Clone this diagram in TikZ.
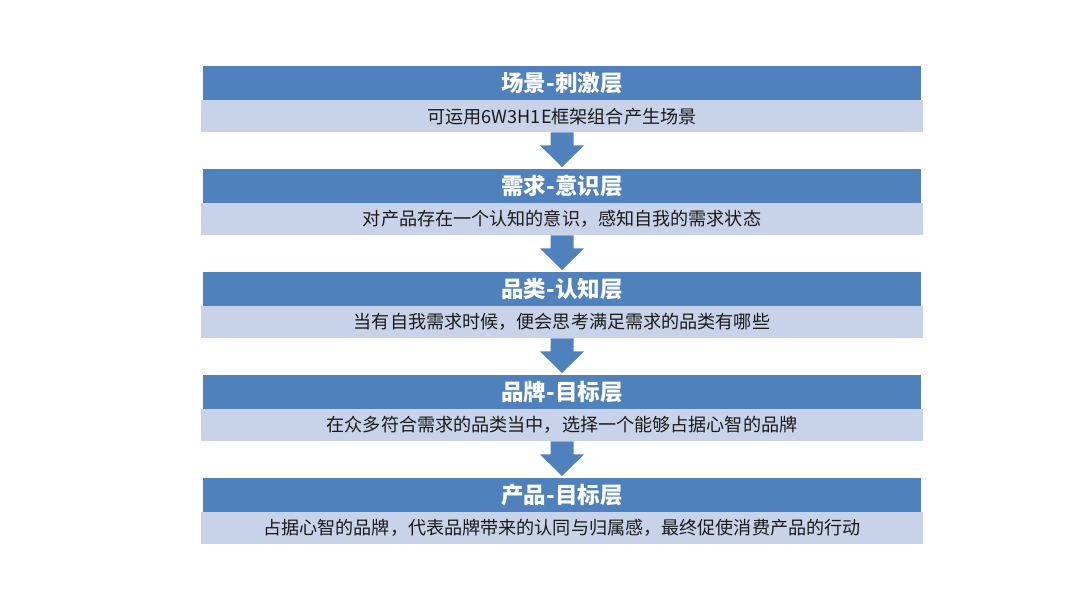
\documentclass[tikz,border=0pt]{standalone}
\usepackage{fontspec}
\setmainfont{Noto Sans CJK SC}
\usetikzlibrary{calc}
\definecolor{hdrblue}{HTML}{4F81BD}
\definecolor{lightblue}{HTML}{C8D2E8}
\definecolor{desctext}{HTML}{1A1A1A}
\begin{document}
\begin{tikzpicture}[x=1pt,y=-1pt,
  hdr/.style={fill=hdrblue, minimum width=718pt, minimum height=34pt, inner sep=0pt,
    text=white, font=\fontsize{22.5}{22.5}\selectfont\bfseries, anchor=north},
  desc/.style={fill=lightblue, minimum width=722pt, minimum height=32pt, inner sep=0pt,
    text=desctext, font=\fontsize{18.1}{18.1}\selectfont, anchor=north}]
\useasboundingbox (0,0) rectangle (1080,608);
\node[desc] (d1) at (562,100) {可运用6W3H1E框架组合产生场景};
\node[hdr]  (h1) at (562,66)  {场景-刺激层};
\node[desc] (d2) at (562,203) {对产品存在一个认知的意识，感知自我的需求状态};
\node[hdr]  (h2) at (562,169) {需求-意识层};
\node[desc] (d3) at (562,306) {当有自我需求时候，便会思考满足需求的品类有哪些};
\node[hdr]  (h3) at (562,272) {品类-认知层};
\node[desc] (d4) at (562,409) {在众多符合需求的品类当中，选择一个能够占据心智的品牌};
\node[hdr]  (h4) at (562,375) {品牌-目标层};
\node[desc] (d5) at (562,512) {占据心智的品牌，代表品牌带来的认同与归属感，最终促使消费产品的行动};
\node[hdr]  (h5) at (562,478) {产品-目标层};
\foreach \i/\j in {1/2,2/3,3/4,4/5}{
  \path (d\i.south) coordinate (a) (h\j.north) coordinate (b);
  \fill[hdrblue] ($(a)+(-11.5,0)$) -- ($(a)+(11.5,0)$) -- ($(a)+(11.5,13)$)
    -- ($(a)+(22,13)$) -- ($(b)+(0,-2)$) -- ($(a)+(-22,13)$)
    -- ($(a)+(-11.5,13)$) -- cycle;
}
\end{tikzpicture}
\end{document}
